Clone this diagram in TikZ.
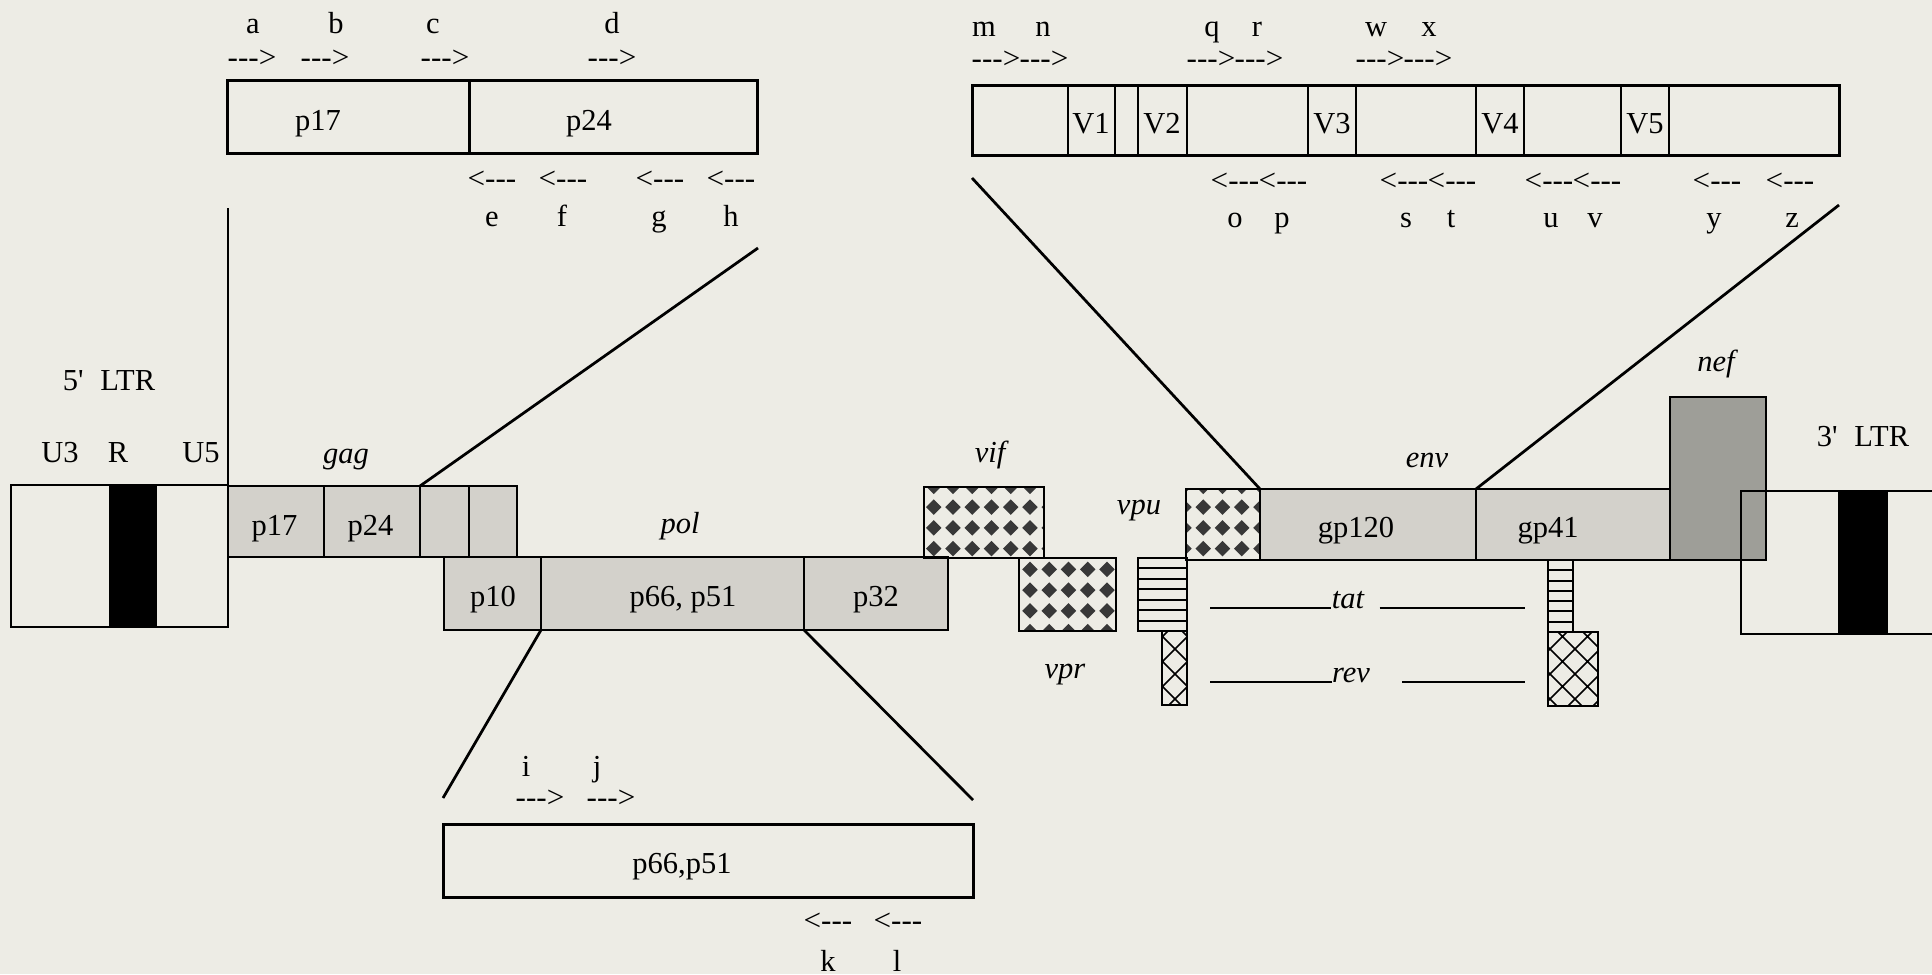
\documentclass[tikz,border=0pt]{standalone}
\usepackage{fontspec}
\setmainfont{Liberation Serif}
\usepackage{tikz}
\usetikzlibrary{positioning, fit, calc, patterns}
\definecolor{paper}{RGB}{237,236,229}
\definecolor{orfgray}{RGB}{211,209,203}
\definecolor{nefgray}{RGB}{158,158,152}

% dark diamonds on a grid (vif, vpr, vpu)
\pgfdeclarepatternformonly{diamondgrid}{\pgfqpoint{-1pt}{-1pt}}{\pgfqpoint{8.7pt}{9.3pt}}{\pgfqpoint{7.7pt}{8.3pt}}{%
  \pgfpathmoveto{\pgfqpoint{3.85pt}{1.05pt}}%
  \pgfpathlineto{\pgfqpoint{6.95pt}{4.15pt}}%
  \pgfpathlineto{\pgfqpoint{3.85pt}{7.25pt}}%
  \pgfpathlineto{\pgfqpoint{0.75pt}{4.15pt}}%
  \pgfpathclose
  \pgfusepath{fill}}
% open crosshatch (rev exons)
\pgfdeclarepatternformonly{revhatch}{\pgfqpoint{-1pt}{-1pt}}{\pgfqpoint{11pt}{11pt}}{\pgfqpoint{10pt}{10pt}}{%
  \pgfsetlinewidth{0.6pt}%
  \pgfpathmoveto{\pgfqpoint{0pt}{0pt}}\pgfpathlineto{\pgfqpoint{10pt}{10pt}}%
  \pgfpathmoveto{\pgfqpoint{0pt}{10pt}}\pgfpathlineto{\pgfqpoint{10pt}{0pt}}%
  \pgfusepath{stroke}}

\newcommand{\mapfont}{\fontsize{12.2}{14.5}\selectfont}
\newcommand{\fwdp}{\scalebox{1.02}[1]{-{}-{}->}}
\newcommand{\revp}{\scalebox{1.02}[1]{<-{}-{}-}}
\newcommand{\apos}{\textquotesingle}

\begin{document}
\begin{tikzpicture}[x=0.4pt, y=-0.4pt, font=\mapfont,
    seg/.style={draw, line width=1pt, inner sep=0pt, outer sep=0pt},
    orf/.style={seg, fill=orfgray},
    zoombox/.style={seg, line width=1.2pt},
    dots/.style={seg, pattern=diamondgrid, pattern color=black!78},
    hatch/.style={seg, pattern=revhatch},
    band/.style={fill=black, inner sep=0pt, outer sep=0pt},
    gene/.style={font=\mapfont\itshape, anchor=base, inner sep=0pt},
    tag/.style={anchor=base, inner sep=0pt},
    primer/.style={inner sep=0pt},
    zoomline/.style={line width=1.1pt}]
        \path[use as bounding box] (0,0) rectangle (1932,974);
        \clip (0,0) rectangle (1932,974);
        \fill[paper] (0,0) rectangle (1932,974);

        % 5' LTR
        \node[seg, fit={(11,485) (228,627)}] (ltr5) {};
        \node[band, fit={(108.5,485) (157,627)}] (ltr5r) {};
        \node[tag] (ltr5lab) at (109,390) {5\apos\hspace{0.55em}LTR};
        \node[tag] (u3) at (60,462) {U3};
        \node[tag] (rr) at (118,462) {R};
        \node[tag] (u5) at (201,462) {U5};

        % gag
        \node[orf, fit={(228,486) (324,557)}] (g17) {};
        \node[orf, fit={(324,486) (420,557)}] (g24) {};
        \node[orf, fit={(420,486) (469,557)}] (g3) {};
        \node[orf, fit={(469,486) (517,557)}] (g4) {};
        \node[tag] (g17lab) at (274.5,535) {p17};
        \node[tag] (g24lab) at (370.5,535) {p24};
        \node[gene] (gag) at (346,463) {gag};

        % pol
        \node[orf, fit={(444,557) (541,630)}] (p10) {};
        \node[orf, fit={(541,557) (804,630)}] (polrt) {};
        \node[orf, fit={(804,557) (948,630)}] (p32) {};
        \node[tag] (p10lab) at (493,606) {p10};
        \node[tag] (polrtlab) at (683,606) {p66, p51};
        \node[tag] (p32lab) at (876,606) {p32};
        \node[gene] (pol) at (680,533) {pol};

        % accessory genes
        \node[dots, fit={(924,487) (1044,558)}] (vif) {};
        \node[gene] (viflab) at (990,462) {vif};
        \node[dots, fit={(1019,558) (1116,631)}] (vpr) {};
        \node[gene] (vprlab) at (1065,678) {vpr};
        \node[dots, fit={(1186,489) (1260,560)}] (vpu) {};
        \node[gene] (vpulab) at (1139,514) {vpu};
        \node[seg, fit={(1138,558) (1187,631)}] (tat1) {};
        \node[hatch, fit={(1162,631) (1187,705)}] (rev1) {};

        % env and nef
        \node[orf, fit={(1260,489) (1476,560)}] (gp120) {};
        \node[orf, fit={(1476,489) (1670,560)}] (gp41) {};
        \node[tag] (gp120lab) at (1356,537) {gp120};
        \node[tag] (gp41lab) at (1548,537) {gp41};
        \node[gene] (env) at (1427,467) {env};
        \node[seg, fill=nefgray, fit={(1670,397) (1766,560)}] (nef) {};
        \node[gene] (neflab) at (1716,371) {nef};
        \node[seg, fit={(1548,560) (1573,632)}] (tat2) {};
        \node[hatch, fit={(1548,632) (1598,706)}] (rev2) {};
        \foreach \b in {tat1, tat2}
          \foreach \k in {1,...,6}
            \draw[line width=0.8pt] ($(\b.north west)!\k/7!(\b.south west)$)
                  -- ($(\b.north east)!\k/7!(\b.south east)$);

        % spliced tat / rev
        \node[gene] (tat) at (1348,608) {tat};
        \node[gene] (rev) at (1351,682) {rev};
        \draw[line width=0.9pt] (1210,608) -- (tat.base west);
        \draw[line width=0.9pt] (tat.base east) ++(15,0) -- (1525,608);
        \draw[line width=0.9pt] (1210,682) -- (rev.base west);
        \draw[line width=0.9pt] (rev.base east) ++(32,0) -- (1525,682);

        % 3' LTR
        \node[seg, fit={(1741,491) (1960,634)}] (ltr3) {};
        \node[band, fit={(1838,491) (1888,634)}] (ltr3r) {};
        \node[tag] (ltr3lab) at (1863,446) {3\apos\hspace{0.55em}LTR};

        % gag close-up
        \node[zoombox, fit={(227,80) (469,153)}] (zp17) {};
        \node[zoombox, fit={(469,80) (757,153)}] (zp24) {};
        \node[tag] (zp17lab) at (318,130) {p17};
        \node[tag] (zp24lab) at (589,130) {p24};
        \foreach \n/\ax/\lx in {a/252/253, b/325/336, c/445/433, d/612/612} {
          \node[primer] (fw\n) at (\ax,59) {\fwdp};
          \node[tag] (lb\n) at (\lx,33) {\n};
        }
        \foreach \n/\ax/\lx in {e/492/492, f/563/562, g/660/659, h/731/731} {
          \node[primer] (rv\n) at (\ax,180) {\revp};
          \node[tag] (lb\n) at (\lx,226) {\n};
        }

        % env close-up
        \node[zoombox, fit={(972,85) (1839,155)}] (zenv) {};
        \foreach \x in {1068,1115,1138,1187,1308,1356,1476,1524,1621,1669}
          \draw[line width=0.8pt] (\x,85) -- (\x,155);
        \foreach \v/\x in {1/1091,2/1162,3/1332,4/1500,5/1645}
          \node[tag] (vv\v) at (\x,133) {V\v};
        \foreach \n/\ax/\lx in {m/996/984, n/1044/1043, q/1211/1212, r/1259/1257,
                                w/1380/1376, x/1428/1429} {
          \node[primer] (fw\n) at (\ax,60) {\fwdp};
          \node[tag] (lb\n) at (\lx,36) {\n};
        }
        \foreach \n/\ax/\lx in {o/1235/1235, p/1283/1282, s/1404/1406, t/1452/1451,
                                u/1549/1551, v/1597/1595, y/1717/1714, z/1790/1792} {
          \node[primer] (rv\n) at (\ax,182) {\revp};
          \node[tag] (lb\n) at (\lx,227) {\n};
        }

        % RT close-up
        \node[zoombox, fit={(443,824) (973,897)}] (zrt) {};
        \node[tag] (zrtlab) at (682,873) {p66,p51};
        \foreach \n/\ax/\lx in {i/540/526, j/611/597} {
          \node[primer] (fw\n) at (\ax,799) {\fwdp};
          \node[tag] (lb\n) at (\lx,776) {\n};
        }
        \foreach \n/\ax/\lx in {k/828/828, l/898/897} {
          \node[primer] (rv\n) at (\ax,922) {\revp};
          \node[tag] (lb\n) at (\lx,971) {\n};
        }

        % close-up guides
        \coordinate (gagtop) at (228,208);
        \coordinate (gagend) at (758,248);
        \coordinate (envtop) at (972,178);
        \coordinate (envend) at (1839,205);
        \coordinate (rttop) at (443,798);
        \coordinate (rtend) at (973,800);
        \draw[zoomline] (g17.north west) -- (gagtop);
        \draw[zoomline] (g3.north west) -- (gagend);
        \draw[zoomline] (vpu.north east) -- (envtop);
        \draw[zoomline] (gp41.north west) -- (envend);
        \draw[zoomline] (polrt.south west) -- (rttop);
        \draw[zoomline] (p32.south west) -- (rtend);
      \end{tikzpicture}
\end{document}
